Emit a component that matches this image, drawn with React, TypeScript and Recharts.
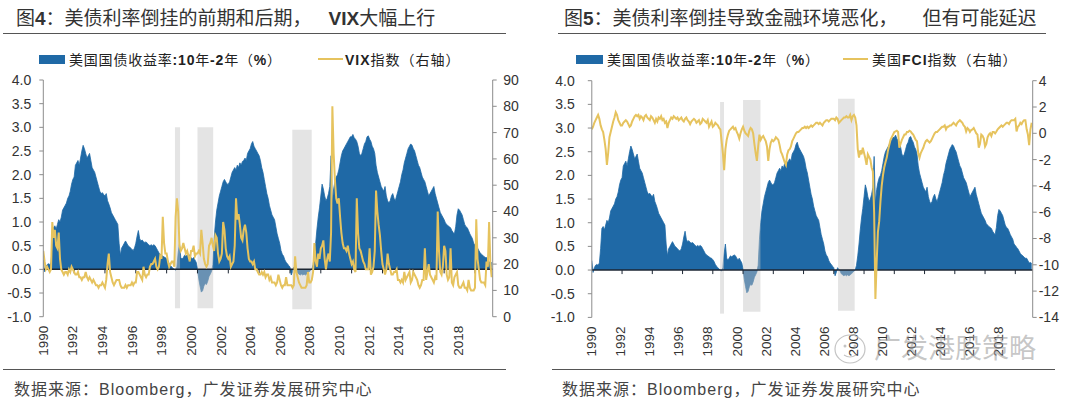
import React from 'react';
import { ComposedChart, Area, Line, XAxis, YAxis, ReferenceArea, ReferenceLine } from 'recharts';

// ---------- DATA (monthly, Jan 1990 - Feb 2019) ----------
const START_YEAR = 1990;

// US Treasury 10Y-2Y spread (%)
const spread1990s = [
  0.20, -0.05, 0.05, 0.10, 0.12, 0.10, 0.15, 0.45, 0.88, 0.92, 0.85, 0.95,
  1.05, 1.00, 1.10, 1.25, 1.30, 1.35, 1.40, 1.50, 1.55, 1.65, 1.80, 1.90,
  1.95, 2.20, 2.25, 2.30, 2.20, 2.35, 2.50, 2.62, 2.55, 2.45, 2.35, 2.40,
  2.45, 2.30, 2.15, 2.10, 2.05, 1.95, 1.85, 1.75, 1.65, 1.60, 1.62, 1.58,
  1.55, 1.60, 1.45, 1.38, 1.30, 1.20, 1.15, 1.10, 1.05, 1.00, 0.95, 0.55,
  0.30, 0.45, 0.50, 0.55, 0.60, 0.55, 0.50, 0.48, 0.45, 0.42, 0.40, 0.45,
  0.55, 0.70, 0.82, 0.65, 0.60, 0.62, 0.58, 0.57, 0.58, 0.55, 0.52, 0.50,
  0.52, 0.50, 0.52, 0.50, 0.45, 0.40, 0.35, 0.32, 0.30, 0.28, 0.26, 0.25,
  0.22, 0.18, 0.12, 0.08, 0.05, 0.02, 0.00, -0.02, 0.05, 0.35, 0.55, 0.25,
  0.22, 0.25, 0.30, 0.28, 0.30, 0.32, 0.30, 0.25, 0.22, 0.25, 0.20, 0.15,
];
const spread2000s = [
  0.02, -0.20, -0.35, -0.48, -0.45, -0.35, -0.30, -0.32, -0.25, -0.15, -0.10, -0.04,
  0.10, 0.65, 1.00, 1.25, 1.40, 1.55, 1.65, 1.75, 1.85, 1.90, 1.85, 1.80,
  1.80, 1.85, 1.95, 2.05, 2.10, 2.15, 2.10, 2.20, 2.15, 2.25, 2.20, 2.28,
  2.30, 2.35, 2.30, 2.45, 2.50, 2.55, 2.65, 2.70, 2.60, 2.55, 2.50, 2.45,
  2.40, 2.30, 2.15, 2.05, 1.90, 1.75, 1.60, 1.50, 1.35, 1.25, 1.15, 1.10,
  1.05, 0.90, 0.75, 0.65, 0.55, 0.40, 0.32, 0.28, 0.20, 0.15, 0.12, 0.08,
  0.05, -0.12, -0.05, 0.05, 0.02, -0.02, -0.08, -0.10, -0.12, -0.10, -0.12, -0.10,
  -0.12, -0.10, -0.08, -0.05, -0.02, 0.00, 0.10, 0.30, 0.55, 0.85, 1.10, 1.30,
  1.55, 1.80, 1.70, 1.55, 1.45, 1.50, 1.60, 1.75, 2.40, 1.40, 1.70, 1.85,
  1.95, 2.00, 2.10, 2.25, 2.40, 2.50, 2.55, 2.60, 2.65, 2.70, 2.75, 2.80,
];
const spread2010s = [
  2.80, 2.85, 2.78, 2.75, 2.70, 2.60, 2.45, 2.40, 2.45, 2.55, 2.65, 2.70,
  2.80, 2.82, 2.75, 2.70, 2.60, 2.55, 2.45, 2.20, 2.05, 1.95, 1.85, 1.75,
  1.70, 1.65, 1.75, 1.55, 1.45, 1.40, 1.45, 1.55, 1.60, 1.50, 1.45, 1.55,
  1.65, 1.75, 1.85, 2.00, 2.10, 2.25, 2.35, 2.45, 2.55, 2.60, 2.65, 2.62,
  2.55, 2.50, 2.40, 2.30, 2.20, 2.15, 2.05, 1.95, 1.90, 1.85, 1.75, 1.65,
  1.55, 1.60, 1.65, 1.70, 1.75, 1.60, 1.50, 1.40, 1.30, 1.20, 1.15, 1.10,
  1.05, 0.98, 0.95, 0.92, 0.90, 0.88, 0.82, 0.78, 0.75, 0.90, 1.15, 1.28,
  1.25, 1.20, 1.15, 1.05, 0.95, 0.90, 0.88, 0.82, 0.75, 0.70, 0.65, 0.55,
  0.52, 0.48, 0.45, 0.40, 0.35, 0.32, 0.30, 0.27, 0.25, 0.25, 0.20, 0.15,
  0.16, 0.14,
];

// VIX index (right axis, figure 4)
const vix1990s = [
  25, 21, 18, 19, 18, 17, 18, 36, 30, 33, 27, 26,
  32, 22, 18, 17, 16, 17, 17, 16, 18, 17, 19, 18,
  17, 16, 16, 17, 15, 15, 14, 15, 15, 17, 15, 14,
  15, 14, 13, 14, 13, 12, 12, 11, 12, 12, 13, 12,
  11, 14, 20, 24, 17, 15, 13, 12, 13, 14, 14, 14,
  12, 11, 11, 11, 12, 11, 12, 12, 12, 13, 12, 13,
  13, 17, 17, 16, 15, 14, 19, 16, 15, 16, 16, 19,
  20, 20, 21, 22, 19, 18, 19, 23, 22, 38, 28, 24,
  24, 21, 19, 20, 21, 21, 19, 38, 45, 40, 27, 25,
  26, 28, 26, 24, 25, 23, 21, 25, 25, 27, 23, 24,
];
const vix2000s = [
  24, 25, 24, 33, 28, 22, 20, 19, 20, 27, 28, 30,
  27, 25, 31, 30, 24, 21, 22, 24, 36, 33, 26, 23,
  22, 23, 19, 20, 21, 27, 45, 37, 39, 35, 30, 29,
  33, 35, 32, 26, 22, 21, 21, 20, 21, 18, 18, 17,
  16, 16, 17, 16, 17, 15, 16, 16, 14, 15, 13, 13,
  13, 12, 13, 16, 14, 12, 11, 12, 12, 15, 12, 12,
  12, 12, 11, 12, 23, 17, 15, 13, 12, 11, 11, 11,
  11, 12, 17, 13, 13, 14, 17, 28, 21, 19, 24, 22,
  26, 27, 29, 22, 18, 22, 24, 21, 32, 80, 62, 52,
  45, 43, 45, 38, 32, 28, 26, 26, 25, 27, 24, 22,
];
const vix2010s = [
  20, 21, 18, 17, 45, 32, 26, 25, 23, 21, 20, 18,
  18, 18, 26, 16, 17, 19, 25, 48, 40, 35, 31, 25,
  20, 18, 16, 18, 24, 20, 18, 16, 16, 17, 17, 18,
  14, 14, 13, 14, 13, 17, 14, 15, 16, 17, 13, 14,
  17, 16, 15, 14, 12, 11, 12, 14, 14, 26, 14, 17,
  20, 16, 15, 14, 13, 15, 14, 40, 25, 17, 16, 19,
  27, 25, 16, 14, 15, 26, 13, 12, 15, 16, 17, 12,
  11, 11, 12, 13, 11, 11, 10, 14, 11, 10, 10, 10,
  11, 37, 22, 18, 14, 13, 13, 13, 12, 21, 19, 36,
  20, 15,
];

// Bloomberg US Financial Conditions Index (right axis, figure 5)
const fci1990s = [
  0.3, 0.5, 0.8, 1.0, 1.2, 1.4, 1.1, 0.6, 0.3, 0.1, -0.5, -1.2,
  -2.4, -1.5, -0.3, 0.1, 0.5, 0.9, 1.2, 1.6, 1.4, 1.0, 0.8, 0.6,
  0.6, 0.8, 0.9, 1.0, 0.9, 0.7, 0.5, 0.6, 0.9, 1.1, 1.3, 1.4,
  1.3, 1.4, 1.1, 1.3, 1.2, 1.0, 1.3, 1.4, 1.2, 1.1, 1.0, 1.3,
  1.2, 1.0, 0.8, 1.1, 0.9, 1.2, 1.1, 1.3, 1.0, 1.1, 0.8, 0.9,
  0.4, 0.8, 1.0, 1.2, 1.1, 1.3, 1.2, 1.1, 1.2, 1.0, 1.1, 1.2,
  1.0, 0.9, 1.1, 1.2, 1.0, 0.9, 0.7, 0.9, 1.0, 1.1, 1.0, 0.8,
  0.9, 1.0, 0.7, 0.8, 1.1, 1.0, 0.9, 0.8, 1.0, 0.5, 0.7, 0.9,
  0.5, 0.6, 0.8, 0.7, 0.6, 0.4, 0.3, -0.6, -1.5, -2.8, -1.2, -0.5,
  -0.1, 0.2, 0.3, 0.4, 0.5, 0.3, 0.4, 0.1, -0.1, -0.4, 0.0, 0.3,
];
const fci2000s = [
  0.5, 0.2, 0.0, -0.1, -0.2, 0.2, 0.4, 0.3, 0.0, -0.8, -1.5, -2.1,
  -1.0, -0.1, -0.5, -0.3, -0.2, -0.4, -0.6, -1.0, -2.1, -1.2, -0.7, -0.5,
  -0.6, -0.5, -0.3, -0.4, -0.5, -0.9, -1.4, -1.6, -1.9, -2.2, -2.4, -1.6,
  -1.3, -1.2, -1.0, -0.6, -0.4, -0.2, 0.0, 0.1, 0.1, 0.2, 0.3, 0.4,
  0.4, 0.5, 0.4, 0.5, 0.4, 0.5, 0.6, 0.5, 0.6, 0.7, 0.8, 0.8,
  0.7, 0.8, 0.7, 0.6, 0.8, 0.9, 1.0, 1.0, 0.9, 1.0, 1.1, 1.1,
  1.1, 1.0, 1.2, 1.1, 0.8, 0.9, 1.0, 1.1, 1.2, 1.2, 1.3, 1.2,
  1.2, 1.4, 1.0, 1.3, 1.4, 1.2, 0.6, -1.2, -1.85, -1.3, -1.6, -1.1,
  -1.5, -1.9, -2.4, -1.6, -1.8, -2.0, -2.6, -2.9, -6.0, -12.6, -9.8, -7.5,
  -6.7, -5.2, -4.0, -3.2, -2.6, -2.2, -1.85, -1.3, -0.9, -0.5, -0.3, -0.1,
];
const fci2010s = [
  0.1, 0.14, 0.2, 0.1, -1.1, -0.8, -0.5, -0.3, -0.1, -0.1, 0.1, 0.1,
  0.2, 0.14, 0.0, -0.1, -0.3, -0.5, -0.6, -1.5, -1.85, -1.5, -1.3, -1.1,
  -0.8, -0.6, -0.5, -0.6, -0.7, -0.6, -0.4, -0.2, 0.0, 0.1, 0.1, 0.2,
  0.3, 0.4, 0.5, 0.5, 0.6, 0.3, 0.5, 0.5, 0.6, 0.6, 0.7, 0.8,
  0.7, 0.6, 0.8, 0.9, 1.0, 0.9, 0.8, 0.6, 0.5, 0.14, 0.4, 0.3,
  0.1, 0.25, 0.3, 0.4, 0.2, 0.0, -0.1, -1.1, -0.8, -0.1, -0.2, -0.4,
  -1.0, -0.8, -0.3, -0.1, 0.0, -0.2, 0.1, 0.1, 0.0, 0.14, 0.3, 0.4,
  0.5, 0.6, 0.5, 0.6, 0.7, 0.8, 0.8, 0.7, 0.9, 1.0, 1.0, 1.0,
  1.1, 0.14, 0.5, 0.6, 0.8, 0.7, 0.9, 1.0, 1.0, 0.3, -0.1, -0.9,
  0.3, 0.8,
];

// Shaded curve-inversion periods (year, left-axis %)
const bands4 = [
  { x1: 1998.54, x2: 1998.87, y1: -0.82, y2: 3.0 },
  { x1: 2000.0, x2: 2001.02, y1: -0.82, y2: 3.0 },
  { x1: 2006.15, x2: 2007.41, y1: -0.84, y2: 2.95 },
];
const bands5 = [
  { x1: 1998.48, x2: 1998.74, y1: -0.92, y2: 3.55 },
  { x1: 2000.0, x2: 2001.15, y1: -0.88, y2: 3.59 },
  { x1: 2006.28, x2: 2007.38, y1: -0.86, y2: 3.62 },
];

// Axis ticks
const yearTicks = [1990, 1992, 1994, 1996, 1998, 2000, 2002, 2004, 2006, 2008, 2010, 2012, 2014, 2016, 2018];
const spreadTicks = [-1, -0.5, 0, 0.5, 1, 1.5, 2, 2.5, 3, 3.5, 4];
const vixTicks = [0, 10, 20, 30, 40, 50, 60, 70, 80, 90];
const fciTicks = [-14, -12, -10, -8, -6, -4, -2, 0, 2, 4];

const spread = [...spread1990s, ...spread2000s, ...spread2010s];
const vix = [...vix1990s, ...vix2000s, ...vix2010s];
const fci = [...fci1990s, ...fci2000s, ...fci2010s];

const rows = spread.map((s, i) => ({
  x: START_YEAR + i / 12,
  spread: s,
  vix: vix[i],
  fci: fci[i],
}));

// ---------- STYLE ----------
const BLUE = '#1F69A6';
const GOLD = '#E6C35E';
const AXIS = '#8C8C8C';
const TXT = '#333333';
const LATIN = '"Liberation Sans", Arial, sans-serif';
const CJK = '"Noto Sans CJK SC", "Liberation Sans", sans-serif';

const XTick = (props: any) => {
  const { x, y, payload } = props;
  const yr = payload.value as number;
  const px = x - (yr - START_YEAR) * 0.6;
  return (
    <text
      x={px}
      y={y}
      transform={`rotate(-90, ${px}, ${y})`}
      textAnchor="end"
      dominantBaseline="central"
      fontSize={13.5}
      fill={TXT}
      fontFamily={LATIN}
    >
      {yr}
    </text>
  );
};

type Band = { x1: number; x2: number; y1: number; y2: number };

type PanelProps = {
  left: number;
  plotTop: number;
  leftWidth: number;
  rightWidth: number;
  leftTickMargin: number;
  rightTickMargin: number;
  rightKey: 'vix' | 'fci';
  rightDomain: [number, number];
  rightTicks: number[];
  bands: Band[];
};

function Panel(p: PanelProps) {
  const H = 370;
  return (
    <div style={{ position: 'absolute', left: p.left, top: 0 }}>
      <ComposedChart
        width={540}
        height={H}
        data={rows}
        margin={{ top: p.plotTop, right: 0, bottom: 0, left: 0 }}
      >
        <XAxis
          dataKey="x"
          type="number"
          domain={[1990, 2019.15]}
          ticks={yearTicks}
          interval={0}
          allowDataOverflow
          axisLine={false}
          tickLine={false}
          tickSize={0}
          tickMargin={9}
          height={H - p.plotTop - 236.7}
          tick={(tp: any) => <XTick {...tp} />}
        />
        <YAxis
          yAxisId="left"
          orientation="left"
          type="number"
          domain={[-1, 4]}
          ticks={spreadTicks}
          interval={0}
          width={p.leftWidth}
          tickFormatter={(v: number) => v.toFixed(1)}
          axisLine={{ stroke: AXIS, strokeWidth: 1 }}
          tickLine={{ stroke: AXIS }}
          tickSize={4}
          tickMargin={p.leftTickMargin}
          tick={{ fontSize: 14, fill: TXT, fontFamily: LATIN }}
        />
        <YAxis
          yAxisId="right"
          orientation="right"
          type="number"
          domain={p.rightDomain}
          ticks={p.rightTicks}
          interval={0}
          width={p.rightWidth}
          axisLine={{ stroke: AXIS, strokeWidth: 1 }}
          tickLine={{ stroke: AXIS }}
          tickSize={4}
          tickMargin={p.rightTickMargin}
          tick={{ fontSize: 14, fill: TXT, fontFamily: LATIN, textAnchor: 'start' }}
        />
        <Area
          yAxisId="left"
          dataKey="spread"
          type="linear"
          baseValue={0}
          fill={BLUE}
          fillOpacity={1}
          stroke={BLUE}
          strokeWidth={0.8}
          dot={false}
          activeDot={false}
          isAnimationActive={false}
        />
        {p.bands.map((b, i) => (
          <ReferenceArea
            key={'b' + i}
            yAxisId="left"
            x1={b.x1}
            x2={b.x2}
            y1={b.y1}
            y2={b.y2}
            fill="#C4C4C4"
            fillOpacity={0.45}
            stroke="none"
            ifOverflow="visible"
            {...({ zIndex: 150 } as any)}
          />
        ))}
        <ReferenceLine yAxisId="left" y={0} stroke="#1c2633" strokeWidth={1.5} {...({ zIndex: 160 } as any)} />
        {yearTicks.slice(1).map((yr) => (
          <ReferenceLine
            key={'t' + yr}
            yAxisId="left"
            segment={[{ x: yr, y: 0 }, { x: yr, y: -0.085 }]}
            stroke="#1c2633"
            strokeWidth={1}
            {...({ zIndex: 160 } as any)}
          />
        ))}
        <Line
          yAxisId="right"
          dataKey={p.rightKey}
          type="linear"
          stroke={GOLD}
          strokeWidth={2}
          dot={false}
          activeDot={false}
          isAnimationActive={false}
        />
      </ComposedChart>
    </div>
  );
}

const abs = (l: number, t: number, extra: React.CSSProperties = {}): React.CSSProperties => ({
  position: 'absolute',
  left: l,
  top: t,
  whiteSpace: 'nowrap',
  ...extra,
});

export default function App() {
  const latinBold: React.CSSProperties = { fontFamily: LATIN, fontWeight: 700 };
  return (
    <div
      style={{
        position: 'absolute',
        left: 0,
        top: 0,
        width: 1080,
        height: 401,
        background: '#fff',
        overflow: 'hidden',
        fontFamily: CJK,
      }}
    >
      {/* Titles */}
      <div style={abs(16, 5, { fontSize: 19, lineHeight: '24px', color: '#333' })}>
        图<span style={latinBold}>4</span>：美债利率倒挂的前期和后期
        <span style={{ display: 'inline-block', width: 36 }}>，</span>
        <span style={latinBold}>VIX</span>大幅上行
      </div>
      <div style={abs(564, 5, { fontSize: 19, lineHeight: '24px', color: '#333' })}>
        图<span style={latinBold}>5</span>：美债利率倒挂导致金融环境恶化
        <span style={{ display: 'inline-block', width: 44 }}>，</span>但有可能延迟
      </div>
      <div style={abs(3, 33, { width: 503, height: 1, background: '#555' })} />
      <div style={abs(558, 33, { width: 488, height: 1, background: '#555' })} />

      {/* Legends */}
      <div style={abs(39, 54.5, { width: 26, height: 9, background: BLUE })} />
      <div style={abs(69, 50, { fontSize: 14, lineHeight: '18px', color: '#222', letterSpacing: 0.8 })}>
        美国国债收益率<span style={latinBold}>:10</span>年<span style={latinBold}>-2</span>年（<span style={latinBold}>%</span>）
      </div>
      <div style={abs(318, 58, { width: 25, height: 2, background: GOLD })} />
      <div style={abs(345, 50, { fontSize: 14, lineHeight: '18px', color: '#222', letterSpacing: 1 })}>
        <span style={latinBold}>VIX</span>指数（右轴）
      </div>

      <div style={abs(576, 54.5, { width: 27, height: 9, background: BLUE })} />
      <div style={abs(607, 50, { fontSize: 14, lineHeight: '18px', color: '#222', letterSpacing: 0.8 })}>
        美国国债收益率<span style={latinBold}>:10</span>年<span style={latinBold}>-2</span>年（<span style={latinBold}>%</span>）
      </div>
      <div style={abs(843, 58, { width: 25, height: 2, background: GOLD })} />
      <div style={abs(872, 50, { fontSize: 14, lineHeight: '18px', color: '#222', letterSpacing: 1 })}>
        美国<span style={latinBold}>FCI</span>指数（右轴）
      </div>

      {/* Charts */}
      <Panel
        left={0}
        plotTop={80}
        leftWidth={43.3}
        rightWidth={47.3}
        leftTickMargin={8}
        rightTickMargin={6.5}
        rightKey="vix"
        rightDomain={[0, 90]}
        rightTicks={vixTicks}
        bands={bands4}
      />
      <Panel
        left={540}
        plotTop={80.7}
        leftWidth={51.8}
        rightWidth={47.3}
        leftTickMargin={13}
        rightTickMargin={2}
        rightKey="fci"
        rightDomain={[-14, 4]}
        rightTicks={fciTicks}
        bands={bands5}
      />

      {/* Watermark */}
      <svg style={abs(826, 328)} width={48} height={40}>
        <ellipse cx={24} cy={21} rx={15} ry={14} fill="none" stroke="#c4c4c4" strokeWidth={1.2} />
        <circle cx={19} cy={18} r={1.5} fill="#c4c4c4" />
        <circle cx={29} cy={18} r={1.5} fill="#c4c4c4" />
        <path d="M18 27 Q24 31 30 27" fill="none" stroke="#c4c4c4" strokeWidth={1.2} />
      </svg>
      <div style={abs(874, 331, { fontSize: 27, lineHeight: '32px', color: 'rgba(150,150,150,0.55)' })}>
        广发港股策略
      </div>

      {/* Bottom rules and sources */}
      <div style={abs(3, 369, { width: 503, height: 1, background: '#555' })} />
      <div style={abs(552, 369, { width: 503, height: 1, background: '#555' })} />
      <div style={abs(14, 378, { fontSize: 16, lineHeight: '20px', color: '#444', letterSpacing: 1 })}>
        数据来源：<span style={{ fontFamily: LATIN }}>Bloomberg</span>，广发证券发展研究中心
      </div>
      <div style={abs(562, 378, { fontSize: 16, lineHeight: '20px', color: '#444', letterSpacing: 1 })}>
        数据来源：<span style={{ fontFamily: LATIN }}>Bloomberg</span>，广发证券发展研究中心
      </div>
    </div>
  );
}
